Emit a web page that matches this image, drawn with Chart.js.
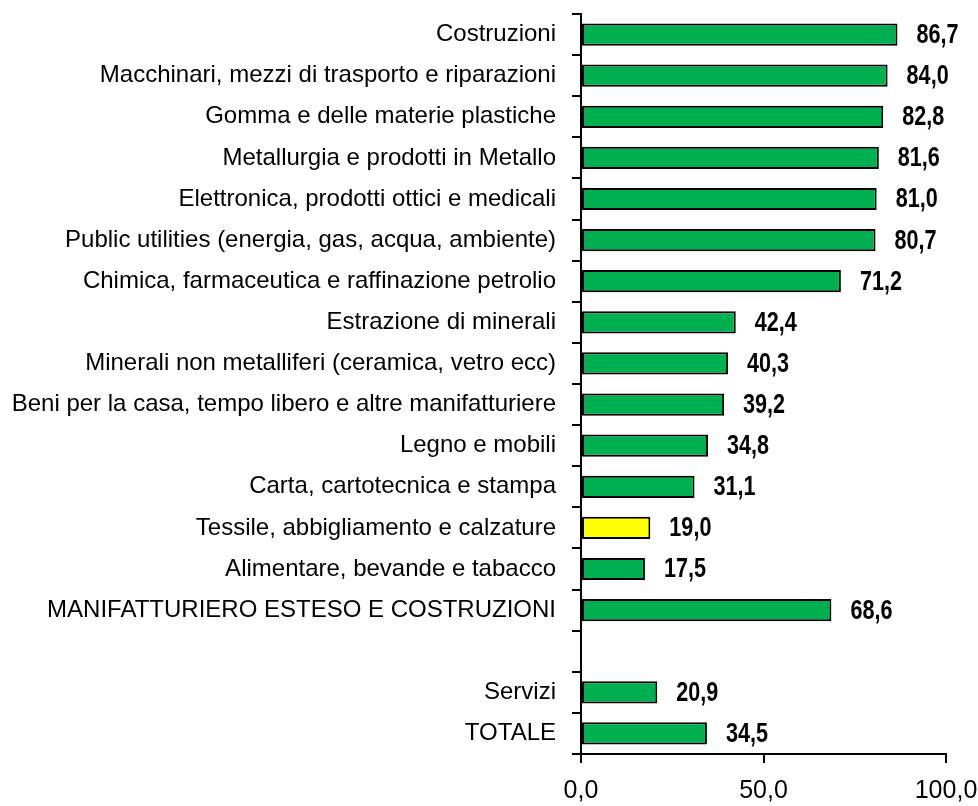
<!DOCTYPE html>
<html>
<head>
<meta charset="utf-8">
<script src="https://cdn.jsdelivr.net/npm/chart.js@4.4.1/dist/chart.umd.min.js"></script>
<style>
  html, body { margin: 0; padding: 0; background: #ffffff; }
  #wrap { width: 978px; height: 806px; }
</style>
</head>
<body>
<div id="wrap"><canvas id="c" width="978" height="806"></canvas></div>
<script>
// Sector categories, top to bottom (blank entry leaves a gap before the totals)
const categories = [
  "Costruzioni",
  "Macchinari, mezzi di trasporto e riparazioni",
  "Gomma e delle materie plastiche",
  "Metallurgia e prodotti in Metallo",
  "Elettronica, prodotti ottici e medicali",
  "Public utilities (energia, gas, acqua, ambiente)",
  "Chimica, farmaceutica e raffinazione petrolio",
  "Estrazione di minerali",
  "Minerali non metalliferi (ceramica, vetro ecc)",
  "Beni per la casa, tempo libero e altre manifatturiere",
  "Legno e mobili",
  "Carta, cartotecnica e stampa",
  "Tessile, abbigliamento e calzature",
  "Alimentare, bevande e tabacco",
  "MANIFATTURIERO ESTESO E COSTRUZIONI",
  "",
  "Servizi",
  "TOTALE"
];

const values = [86.7, 84.0, 82.8, 81.6, 81.0, 80.7, 71.2, 42.4, 40.3, 39.2, 34.8, 31.1, 19.0, 17.5, 68.6, null, 20.9, 34.5];

// Highlighted sector
const highlighted = ["Tessile, abbigliamento e calzature"];

const xTickValues = [0, 50, 100];
const xTickLabels = ["0,0", "50,0", "100,0"];

const FONT = "'Liberation Sans Narrow', 'Arial Narrow', 'Liberation Sans', Arial, sans-serif";
const GREEN = "#00B050";
const YELLOW = "#FFFF00";

const fmt = v => v.toFixed(1).replace(".", ",");

// Writes each bar's value just past its end, in a condensed bold face
const valueLabels = {
  id: "valueLabels",
  afterDatasetsDraw(chart) {
    const ctx = chart.ctx;
    const meta = chart.getDatasetMeta(0);
    const data = chart.data.datasets[0].data;
    const sx = 0.8;
    ctx.save();
    ctx.font = "bold 27px " + FONT;
    ctx.fillStyle = "#000000";
    ctx.textAlign = "left";
    ctx.textBaseline = "middle";
    meta.data.forEach((bar, i) => {
      const v = data[i];
      if (v === null || v === undefined) return;
      ctx.save();
      ctx.translate(bar.x + 19, bar.y + 1);
      ctx.scale(sx, 1);
      ctx.fillText(fmt(v), 0, 0);
      ctx.restore();
    });
    ctx.restore();
  }
};

new Chart(document.getElementById("c"), {
  type: "bar",
  data: {
    labels: categories,
    datasets: [{
      data: values,
      backgroundColor: categories.map(c => highlighted.includes(c) ? YELLOW : GREEN),
      borderColor: "#000000",
      borderWidth: 2,
      borderSkipped: false,
      categoryPercentage: 1.0,
      barPercentage: 0.54
    }]
  },
  options: {
    indexAxis: "y",
    responsive: false,
    animation: false,
    devicePixelRatio: 1,
    layout: { padding: { top: 14, right: 32, bottom: 0, left: 0 } },
    plugins: {
      legend: { display: false },
      tooltip: { enabled: false }
    },
    scales: {
      x: {
        type: "linear",
        min: 0,
        max: 100,
        afterFit(scale) {
          scale.height = 52;
          scale.paddingLeft = 0;
          scale.paddingRight = 0;
        },
        afterBuildTicks(scale) { scale.ticks = xTickValues.map(v => ({ value: v })); },
        ticks: {
          color: "#000000",
          font: { family: FONT, size: 25 },
          padding: 13,
          maxRotation: 0,
          callback: (v) => xTickLabels[xTickValues.indexOf(v)]
        },
        grid: {
          drawOnChartArea: false,
          drawTicks: true,
          tickLength: 9,
          color: "#000000",
          lineWidth: 2
        },
        border: { display: true, color: "#000000", width: 2 }
      },
      y: {
        type: "category",
        afterFit(scale) {
          scale.width = 581;
          scale.paddingTop = 0;
          scale.paddingBottom = 0;
        },
        ticks: {
          color: "#000000",
          font: { family: FONT, size: 24 },
          padding: 16,
          autoSkip: false
        },
        grid: {
          offset: true,
          drawOnChartArea: false,
          drawTicks: true,
          tickLength: 9,
          color: "#000000",
          lineWidth: 2
        },
        border: { display: true, color: "#000000", width: 2 }
      }
    }
  },
  plugins: [valueLabels]
});
</script>
</body>
</html>
